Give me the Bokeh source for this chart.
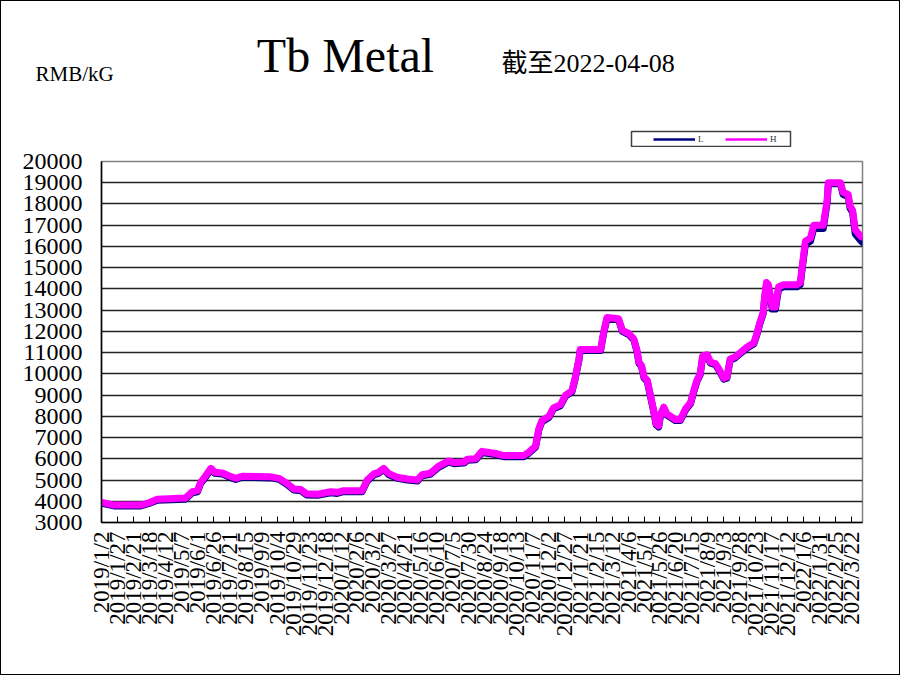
import pandas as pd
from math import pi
from bokeh.plotting import figure
from bokeh.layouts import column
from bokeh.models import Range1d, FixedTicker, Label, Legend, LegendItem, NumeralTickFormatter
from bokeh.embed import file_html
from bokeh.resources import INLINE

BASE_DATE = "2019-01-02"

dates = [
    "2019-01-02", "2019-01-21", "2019-03-04", "2019-03-17", "2019-03-30", "2019-05-13",
    "2019-05-24", "2019-06-01", "2019-06-06", "2019-06-11", "2019-06-22", "2019-06-28",
    "2019-07-10", "2019-07-20", "2019-07-31", "2019-08-10", "2019-09-24", "2019-10-07",
    "2019-10-20", "2019-10-30", "2019-11-10", "2019-11-19", "2019-12-06", "2019-12-27",
    "2020-01-06", "2020-01-16", "2020-02-14", "2020-02-22", "2020-03-04", "2020-03-10",
    "2020-03-19", "2020-03-27", "2020-04-09", "2020-04-25", "2020-05-11", "2020-05-18",
    "2020-05-31", "2020-06-13", "2020-06-29", "2020-07-07", "2020-07-23", "2020-07-28",
    "2020-08-10", "2020-08-20", "2020-08-31", "2020-09-10", "2020-09-23", "2020-10-24",
    "2020-11-01", "2020-11-12", "2020-11-17", "2020-11-22", "2020-12-03", "2020-12-10",
    "2020-12-21", "2020-12-29", "2021-01-08", "2021-01-13", "2021-01-19", "2021-01-21",
    "2021-02-22", "2021-02-27", "2021-03-04", "2021-03-22", "2021-03-28", "2021-04-07",
    "2021-04-15", "2021-04-20", "2021-04-23", "2021-04-27", "2021-05-01", "2021-05-06",
    "2021-05-11", "2021-05-16", "2021-05-20", "2021-05-24", "2021-05-27", "2021-06-01",
    "2021-06-06", "2021-06-09", "2021-06-19", "2021-06-27", "2021-07-05", "2021-07-13",
    "2021-07-18", "2021-07-23", "2021-07-28", "2021-08-01", "2021-08-08", "2021-08-13",
    "2021-08-21", "2021-08-26", "2021-09-03", "2021-09-08", "2021-09-13", "2021-09-21",
    "2021-09-29", "2021-10-09", "2021-10-20", "2021-10-25", "2021-10-29", "2021-11-04",
    "2021-11-06", "2021-11-09", "2021-11-12", "2021-11-18", "2021-11-23", "2021-11-28",
    "2021-12-06", "2021-12-27", "2022-01-01", "2022-01-05", "2022-01-09", "2022-01-17",
    "2022-01-22", "2022-02-06", "2022-02-12", "2022-02-14", "2022-03-05", "2022-03-09",
    "2022-03-17", "2022-03-20", "2022-03-24", "2022-03-28", "2022-04-05", "2022-04-08",
]

h_values = [
    3950, 3820, 3820, 3930, 4100, 4150,
    4450, 4500, 4900, 5080, 5550, 5370,
    5330, 5200, 5080, 5180, 5150, 5080,
    4830, 4580, 4550, 4350, 4330, 4450,
    4420, 4500, 4500, 5000, 5300, 5350,
    5550, 5300, 5130, 5050, 5000, 5250,
    5320, 5650, 5900, 5820, 5850, 5980,
    6000, 6350, 6300, 6250, 6150, 6150,
    6300, 6600, 7400, 7800, 8000, 8400,
    8550, 9000, 9200, 9800, 10700, 11150,
    11150, 12000, 12650, 12600, 12050, 11900,
    11650, 11100, 10550, 10400, 9850, 9700,
    9000, 8300, 7650, 7550, 8100, 8430,
    8100, 8050, 7850, 7850, 8350, 8650,
    9200, 9700, 10000, 10850, 10900, 10550,
    10480, 10250, 9800, 9850, 10700, 10800,
    11000, 11250, 11450, 11900, 12350, 12900,
    13600, 14300, 14200, 13150, 13150, 14100,
    14200, 14200, 14300, 15300, 16250, 16400,
    17000, 17000, 18150, 19000, 19000, 18550,
    18450, 17900, 17700, 16800, 16500, 16450,
]

l_values = [
    3900, 3780, 3780, 3900, 4050, 4100,
    4400, 4450, 4850, 5030, 5500, 5320,
    5280, 5150, 5030, 5130, 5100, 5030,
    4780, 4530, 4500, 4300, 4280, 4400,
    4370, 4450, 4450, 4950, 5250, 5300,
    5500, 5250, 5080, 5000, 4950, 5200,
    5270, 5600, 5850, 5770, 5800, 5930,
    5950, 6300, 6250, 6200, 6100, 6100,
    6250, 6550, 7350, 7750, 7950, 8350,
    8500, 8950, 9150, 9750, 10650, 11100,
    11100, 11950, 12600, 12550, 12000, 11850,
    11600, 11050, 10500, 10350, 9800, 9650,
    8950, 8250, 7600, 7500, 8050, 8380,
    8050, 8000, 7800, 7800, 8300, 8600,
    9150, 9650, 9950, 10800, 10850, 10500,
    10430, 10200, 9750, 9800, 10650, 10750,
    10950, 11200, 11400, 11850, 12300, 12850,
    13550, 14200, 14100, 13050, 13050, 14000,
    14100, 14100, 14200, 15200, 16100, 16250,
    16850, 16850, 18050, 18950, 18950, 18450,
    18350, 17800, 17600, 16600, 16300, 16200,
]

tick_labels = [
    "2019/1/2", "2019/1/27", "2019/2/21", "2019/3/18", "2019/4/12", "2019/5/7",
    "2019/6/1", "2019/6/26", "2019/7/21", "2019/8/15", "2019/9/9", "2019/10/4",
    "2019/10/29", "2019/11/23", "2019/12/18", "2020/1/12", "2020/2/6", "2020/3/2",
    "2020/3/27", "2020/4/21", "2020/5/16", "2020/6/10", "2020/7/5", "2020/7/30",
    "2020/8/24", "2020/9/18", "2020/10/13", "2020/11/7", "2020/12/2", "2020/12/27",
    "2021/1/21", "2021/2/15", "2021/3/12", "2021/4/6", "2021/5/1", "2021/5/26",
    "2021/6/20", "2021/7/15", "2021/8/9", "2021/9/3", "2021/9/28", "2021/10/23",
    "2021/11/17", "2021/12/12", "2022/1/6", "2022/1/31", "2022/2/25", "2022/3/22",
]

y_ticks = list(range(3000, 20001, 1000))

title_text = "Tb Metal"
date_text = "截至2022-04-08"
unit_text = "RMB/kG"
series_names = ["L", "H"]
series_colors = ["#000080", "#FF00FF"]

base = pd.Timestamp(BASE_DATE)
x_days = [int(d) for d in (pd.to_datetime(dates) - base).days]
tick_x = [int((pd.Timestamp(t.replace("/", "-")) - base).days) for t in tick_labels]
last_day = x_days[-1]

SERIF = "Liberation Serif"
W = 898
HEAD_H = 146
MAIN_H = 673 - HEAD_H

# ---------------- header (title, date, unit, legend) ----------------
head = figure(width=W, height=HEAD_H, output_backend="svg", toolbar_location=None,
              x_range=Range1d(0, W), y_range=Range1d(HEAD_H, 0),
              x_axis_type=None, y_axis_type=None, min_border=0)
head.frame_align = False
head.grid.visible = False
head.outline_line_color = None
head.background_fill_color = "white"
head.border_fill_color = "white"

head.add_layout(Label(x=344, y=54, text=title_text, text_font=SERIF, text_font_size="48px",
                      text_align="center", text_baseline="alphabetic", text_color="black"))
head.add_layout(Label(x=500, y=62, text=date_text, text_font=SERIF + ", Noto Sans CJK SC",
                      text_font_size="26px", text_align="left", text_baseline="alphabetic",
                      text_color="black"))
head.add_layout(Label(x=34, y=72, text=unit_text, text_font=SERIF, text_font_size="21px",
                      text_align="left", text_baseline="alphabetic", text_color="black"))

# legend frame box
head.quad(left=[630], right=[789], top=[130], bottom=[145], fill_color=None,
          line_color="#404040", line_width=1.5)
# legend key renderers: hidden off-frame samples that only supply the key style
keys = [head.line([-40, -30], [-40, -30], line_color=c, line_width=2.5) for c in series_colors]
legend = Legend(items=[LegendItem(label=n, renderers=[k]) for n, k in zip(series_names, keys)],
                orientation="horizontal", location=(652, 3))
legend.glyph_width = 42
legend.glyph_height = 6
legend.label_width = 8
legend.label_standoff = 3
legend.spacing = 19
legend.padding = 0
legend.margin = 0
legend.label_text_font = SERIF
legend.label_text_font_size = "9px"
legend.label_text_color = "#333333"
legend.border_line_color = None
legend.background_fill_alpha = 0
head.add_layout(legend)

# ---------------- main chart ----------------
p = figure(width=W, height=MAIN_H, output_backend="svg", toolbar_location=None,
           x_range=Range1d(-0.5, last_day + 0.5), y_range=Range1d(3000, 20000),
           min_border_left=100, min_border_top=160 - HEAD_H, min_border_right=37,
           min_border_bottom=MAIN_H - (521 - HEAD_H))
p.frame_align = False
p.background_fill_color = "white"
p.border_fill_color = "white"
p.outline_line_color = "#808080"
p.outline_line_width = 1.5

p.xgrid.visible = False
p.ygrid.ticker = FixedTicker(ticks=y_ticks)
p.ygrid.grid_line_color = "#222222"
p.ygrid.grid_line_width = 1.3

p.yaxis.ticker = FixedTicker(ticks=y_ticks)
p.yaxis.formatter = NumeralTickFormatter(format="0")
p.yaxis.major_label_text_font = SERIF
p.yaxis.major_label_text_font_size = "24px"
p.yaxis.major_label_text_color = "black"
p.yaxis.major_tick_in = 0
p.yaxis.major_tick_out = 0
p.yaxis.minor_tick_in = 0
p.yaxis.minor_tick_out = 0
p.yaxis.major_label_standoff = 19
p.yaxis.axis_line_color = "black"
p.yaxis.axis_line_width = 1.5

p.xaxis.ticker = FixedTicker(ticks=tick_x)
p.xaxis.major_label_overrides = {tx: lab for tx, lab in zip(tick_x, tick_labels)}
p.xaxis.major_label_orientation = pi / 2
p.xaxis.major_label_text_font = SERIF
p.xaxis.major_label_text_font_size = "23px"
p.xaxis.major_label_text_color = "black"
p.xaxis.major_tick_in = 6
p.xaxis.major_tick_out = 0
p.xaxis.minor_tick_in = 0
p.xaxis.minor_tick_out = 0
p.xaxis.major_label_standoff = 9
p.xaxis.axis_line_color = "black"
p.xaxis.axis_line_width = 1.5
p.xaxis.major_tick_line_color = "black"

p.line(x_days, l_values, line_color=series_colors[0], line_width=7, line_join="round", line_cap="round")
p.line(x_days, h_values, line_color=series_colors[1], line_width=7, line_join="round", line_cap="round")

page = column(head, p, spacing=0, styles={"border": "1px solid #000000"})

open("out.html", "w").write(file_html(page, INLINE))
